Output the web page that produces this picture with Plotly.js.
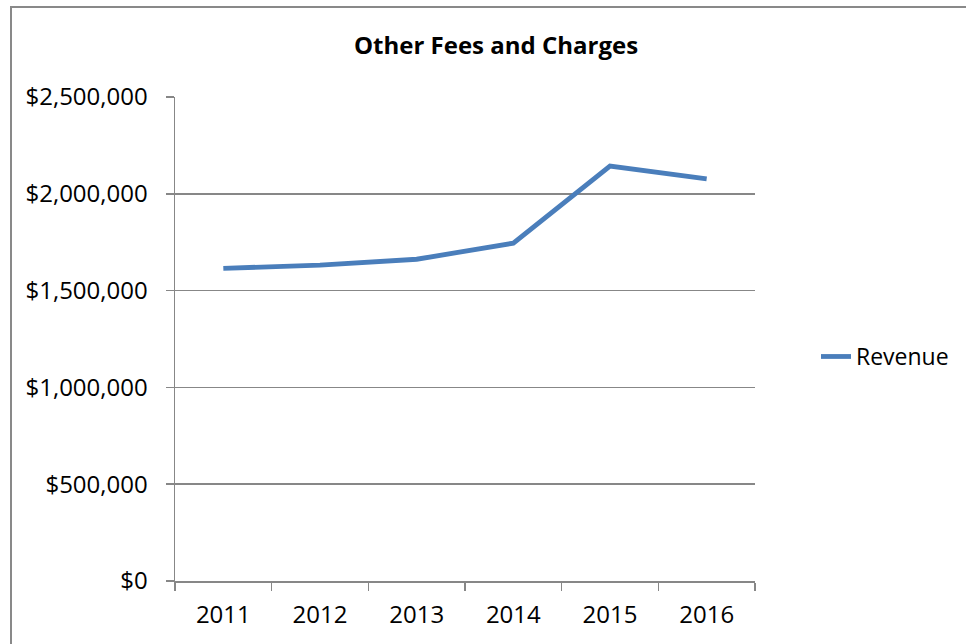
<!DOCTYPE html>
<html>
<head>
<meta charset="utf-8">
<script src="https://cdn.plot.ly/plotly-3.0.1.min.js"></script>
<style>
html,body{margin:0;padding:0;background:#fff;overflow:hidden;width:966px;height:644px;}
#chart{position:absolute;left:0;top:0;width:966px;height:644px;}
#frame{position:absolute;left:10px;top:6px;width:1000px;height:1000px;border-left:2px solid #898989;border-top:2px solid #898989;pointer-events:none;}
</style>
</head>
<body>
<div id="chart"></div>
<div id="frame"></div>
<script>
const years = ["2011", "2012", "2013", "2014", "2015", "2016"];
const revenue = [1615000, 1632000, 1662000, 1745000, 2143000, 2077000];
const seriesName = "Revenue";
const chartTitle = "Other Fees and Charges";
const yTicks = [0, 500000, 1000000, 1500000, 2000000, 2500000];

const FONT = "Open Sans, Liberation Sans, sans-serif";
const GRID = "#878787";

Plotly.newPlot("chart", [{
  type: "scatter",
  mode: "lines",
  x: years,
  y: revenue,
  name: seriesName,
  line: {color: "#4a7ebb", width: 4.8, shape: "linear"},
  showlegend: true
}], {
  width: 966,
  height: 644,
  margin: {l: 175, r: 211, t: 97, b: 63},
  paper_bgcolor: "#fff",
  plot_bgcolor: "#fff",
  font: {family: FONT, size: 24, color: "#000"},
  title: {
    text: "<b>" + chartTitle + "</b>",
    font: {family: FONT, size: 24, color: "#000"},
    xref: "container", x: 496/966, xanchor: "center",
    yref: "container", y: 1 - 46/644, yanchor: "middle"
  },
  xaxis: {
    type: "category",
    range: [-0.5, 5.5],
    tickson: "boundaries",
    ticks: "outside",
    ticklen: 8,
    tickwidth: 1.5,
    tickcolor: GRID,
    showline: true,
    linecolor: GRID,
    linewidth: 1.5,
    showgrid: false,
    zeroline: false,
    ticklabelstandoff: 12,
    tickfont: {family: FONT, size: 24, color: "#000"}
  },
  yaxis: {
    range: [0, 2500000],
    tickvals: yTicks,
    tickformat: "$,.0f",
    ticks: "outside",
    ticklen: 8,
    tickwidth: 1.5,
    tickcolor: GRID,
    showline: true,
    linecolor: GRID,
    linewidth: 1.5,
    showgrid: true,
    gridcolor: GRID,
    gridwidth: 1.5,
    zeroline: false,
    ticklabelstandoff: 13,
    tickfont: {family: FONT, size: 24, color: "#000"}
  },
  legend: {
    x: (816 - 175) / 580, xanchor: "left",
    y: (580 - 356) / 483, yanchor: "middle",
    bgcolor: "rgba(0,0,0,0)",
    font: {family: FONT, size: 23, color: "#000"},
    itemwidth: 30
  },
  showlegend: true
}, {displayModeBar: false, staticPlot: true});
</script>
</body>
</html>
